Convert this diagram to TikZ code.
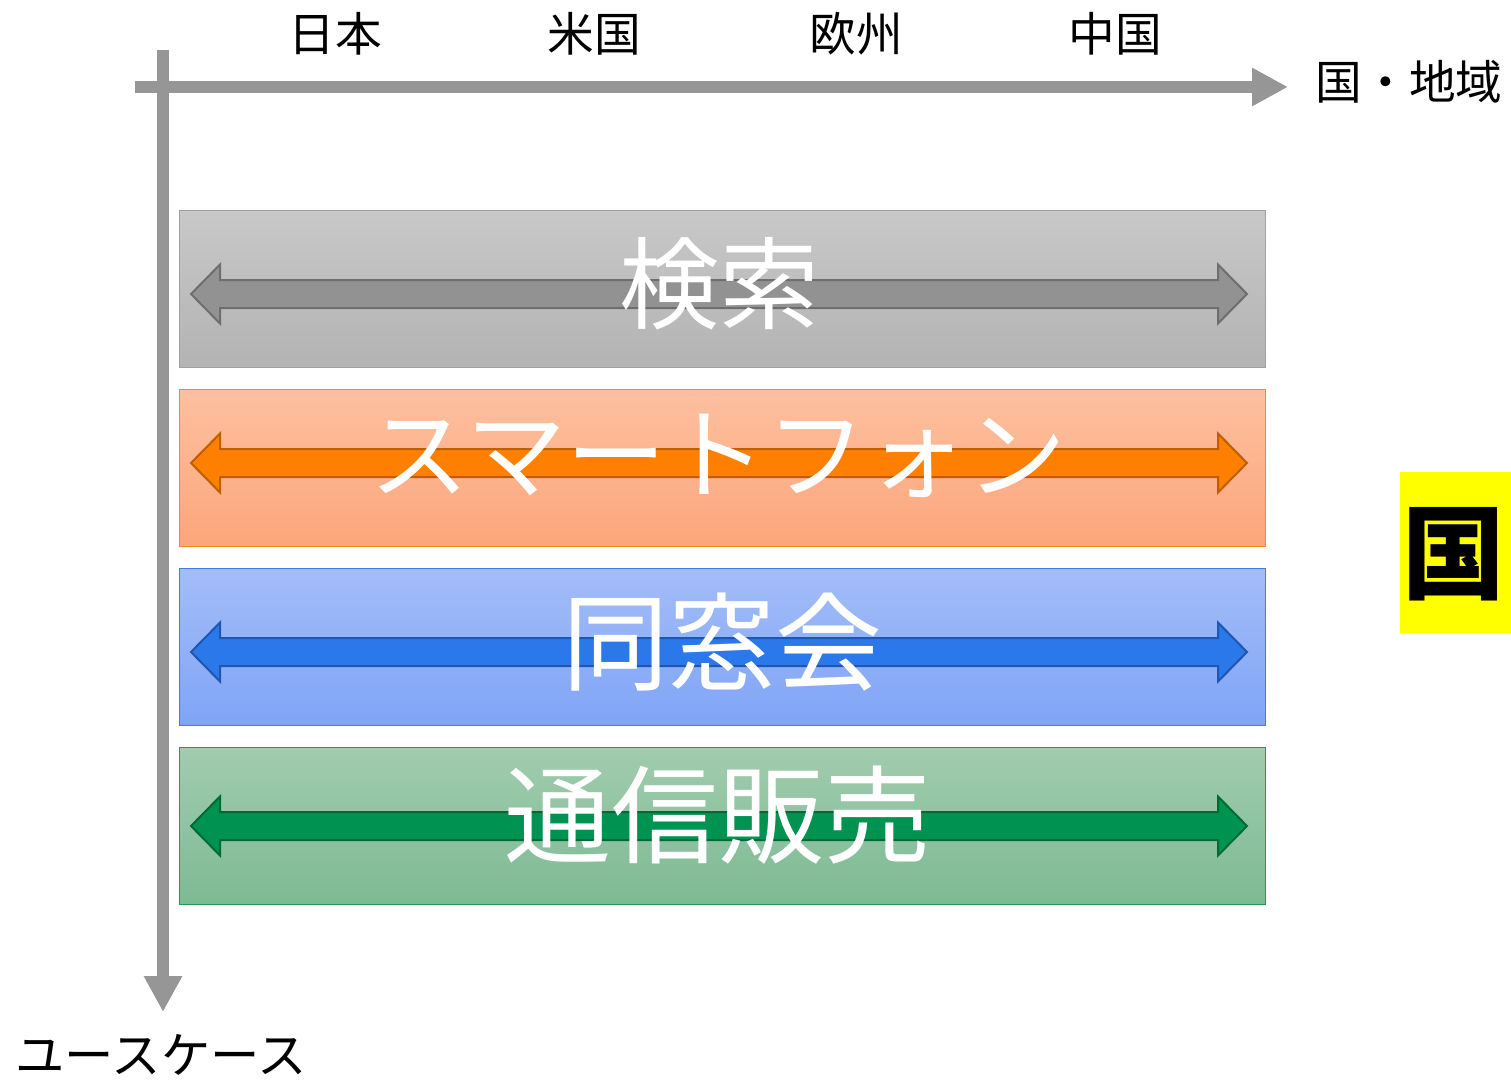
\documentclass[tikz,border=0pt]{standalone}
\usepackage{fontspec}
\setmainfont{Noto Sans CJK JP}
\usepackage{xcolor}
\usepackage{tikz}
\usetikzlibrary{arrows.meta}

\definecolor{axisgray}{RGB}{150,150,150}
\definecolor{graytop}{RGB}{200,200,200}
\definecolor{graybot}{RGB}{179,179,179}
\definecolor{grayedge}{RGB}{160,160,160}
\definecolor{grayarrow}{RGB}{146,146,146}
\definecolor{grayarrowedge}{RGB}{110,110,110}
\definecolor{orangetop}{RGB}{253,192,160}
\definecolor{orangebot}{RGB}{252,166,122}
\definecolor{orangeedge}{RGB}{246,140,30}
\definecolor{orangearrow}{RGB}{255,128,0}
\definecolor{orangearrowedge}{RGB}{190,94,0}
\definecolor{bluetop}{RGB}{163,189,248}
\definecolor{bluebot}{RGB}{128,164,245}
\definecolor{blueedge}{RGB}{60,125,232}
\definecolor{bluearrow}{RGB}{43,120,234}
\definecolor{bluearrowedge}{RGB}{30,86,176}
\definecolor{greentop}{RGB}{161,204,174}
\definecolor{greenbot}{RGB}{125,186,148}
\definecolor{greenedge}{RGB}{30,154,88}
\definecolor{greenarrow}{RGB}{0,146,80}
\definecolor{greenarrowedge}{RGB}{0,106,54}
\definecolor{hlyellow}{RGB}{255,255,0}

\begin{document}
\begin{tikzpicture}[x=0.75pt,y=0.75pt,yscale=-1,xscale=1,
  band/.style={line width=0.75pt},
  bandarrow/.style={line width=1.5pt, line join=miter},
  bandlabel/.style={text=white, font=\fontsize{75}{80}\selectfont, inner sep=0pt},
  biglabel/.style={text=white, font=\fontsize{80}{86}\selectfont, inner sep=0pt},
  axislabel/.style={text=black, font=\fontsize{35}{40}\selectfont, inner sep=0pt},
  axisline/.style={draw=axisgray, line width=9pt, -{Triangle[length=27pt,width=27pt]}}
]
\useasboundingbox (0,0) rectangle (1511,1081);

%Shape: Rectangle [search]
\draw [band, draw=grayedge, top color=graytop, bottom color=graybot] (179,210) rectangle (1265,367);
%Shape: Double Arrow [search]
\draw [bandarrow, draw=grayarrowedge, fill=grayarrow] (191,294) -- (220,264.5) -- (220,280) -- (1218,280) -- (1218,264.5) -- (1247,294) -- (1218,323.5) -- (1218,308) -- (220,308) -- (220,323.5) -- cycle;

%Shape: Rectangle [smartphone]
\draw [band, draw=orangeedge, top color=orangetop, bottom color=orangebot] (179,389) rectangle (1265,546);
%Shape: Double Arrow [smartphone]
\draw [bandarrow, draw=orangearrowedge, fill=orangearrow] (191,463) -- (220,433.5) -- (220,449) -- (1218,449) -- (1218,433.5) -- (1247,463) -- (1218,492.5) -- (1218,477) -- (220,477) -- (220,492.5) -- cycle;

%Shape: Rectangle [alumni]
\draw [band, draw=blueedge, top color=bluetop, bottom color=bluebot] (179,568) rectangle (1265,725);
%Shape: Double Arrow [alumni]
\draw [bandarrow, draw=bluearrowedge, fill=bluearrow] (191,652) -- (220,622.5) -- (220,638) -- (1218,638) -- (1218,622.5) -- (1247,652) -- (1218,681.5) -- (1218,666) -- (220,666) -- (220,681.5) -- cycle;

%Shape: Rectangle [mail order]
\draw [band, draw=greenedge, top color=greentop, bottom color=greenbot] (179,747) rectangle (1265,904);
%Shape: Double Arrow [mail order]
\draw [bandarrow, draw=greenarrowedge, fill=greenarrow] (191,826) -- (220,796.5) -- (220,812) -- (1218,812) -- (1218,796.5) -- (1247,826) -- (1218,855.5) -- (1218,840) -- (220,840) -- (220,855.5) -- cycle;

%Straight Lines [axes]
\coordinate (vstart) at (163,50);
\coordinate (vend) at (163,1012);
\coordinate (hstart) at (135,87);
\coordinate (hend) at (1288,87);
\draw [axisline] (vstart) -- (vend);
\draw [axisline] (hstart) -- (hend);

%Shape: Rectangle [highlight]
\fill [hlyellow] (1400,472) rectangle (1511,633);

% Text Node
\node [bandlabel] (lblsearch) at (719,284) {検索};
% Text Node
\node [bandlabel] (lblphone) at (718,456) {スマートフォン};
% Text Node
\node [biglabel] (lblalumni) at (722,642) {同窓会};
% Text Node
\node [biglabel] (lblmail) at (718,815) {通信販売};
% Text Node
\node [axislabel] (lbljp) at (335,34) {日本};
% Text Node
\node [axislabel] (lblus) at (594,34) {米国};
% Text Node
\node [axislabel] (lbleu) at (856,34) {欧州};
% Text Node
\node [axislabel] (lblcn) at (1115,34) {中国};
% Text Node
\node [axislabel] (lblregion) at (1409,82) {国・地域};
% Text Node
\node [axislabel, font=\fontsize{37}{42}\selectfont] (lblusecase) at (161,1055) {ユースケース};
% Text Node
\node [anchor=west, inner sep=0pt, font=\fontsize{77}{82}\selectfont\bfseries] (lblhl) at (1402,554) {国};

\end{tikzpicture}
\end{document}
